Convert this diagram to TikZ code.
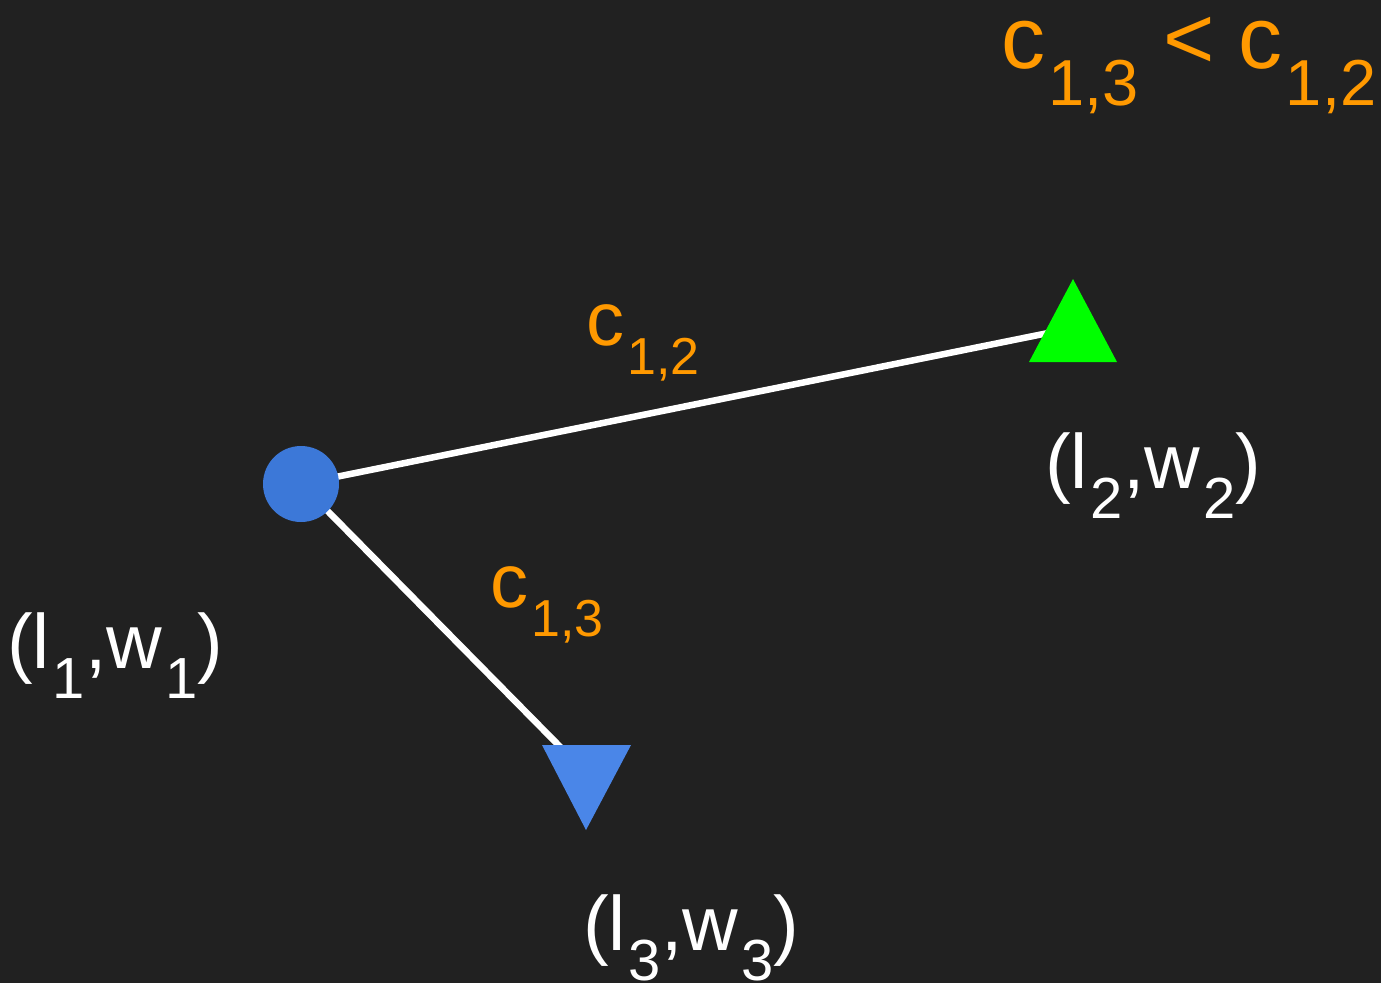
\documentclass[tikz,border=0pt]{standalone}
\usepackage{fontspec}
\setmainfont{Liberation Sans}
\usetikzlibrary{positioning}
\definecolor{bgdark}{HTML}{212121}
\definecolor{nodeblue}{HTML}{3C78D8}
\definecolor{triblue}{HTML}{4A86E8}
\definecolor{trigreen}{HTML}{00FF00}
\definecolor{costorange}{HTML}{FF9900}

% lowered subscript: size, drop, text
\newcommand{\lowsub}[3]{\kern3pt\raisebox{-#2pt}{\fontsize{#1}{#1}\selectfont #3}}

\begin{document}
\begin{tikzpicture}[
    x=1pt, y=-1pt,
    pairlbl/.style={text=white, inner sep=0pt, anchor=base west, font=\fontsize{77}{80}\selectfont},
    costlbl/.style={text=costorange, inner sep=0pt, anchor=base west, font=\fontsize{76}{80}\selectfont},
    edge/.style={draw=white, line width=6.5pt}
]

% -------- Background --------
\fill[bgdark] (0,0) rectangle (1381,983);

% -------- Points --------
\coordinate (p2) at (1073,328);
\coordinate (p3) at (586,773);
\coordinate (p1pos) at (301,484);

% -------- Edges (under the markers) --------
\draw[edge] (p1pos) -- (p2);
\draw[edge] (p1pos) -- (p3);
\node[circle, fill=nodeblue, minimum size=76pt, inner sep=0pt] (p1) at (p1pos) {};

% -------- Triangle markers --------
\fill[trigreen] (1073,279) -- (1117,362) -- (1029,362) -- cycle;
\fill[triblue]  (542,745) -- (631,745) -- (586,830) -- cycle;

% -------- Pair labels --------
\node[pairlbl] (lab1) at (7,668)    {(l\lowsub{58}{30}{1},w\lowsub{58}{30}{1})};
\node[pairlbl] (lab2) at (1045,488) {(l\lowsub{58}{30}{2},w\lowsub{58}{30}{2})};
\node[pairlbl] (lab3) at (583,950)  {(l\lowsub{58}{30}{3},w\lowsub{58}{30}{3})};

% -------- Cost labels --------
\node[costlbl] (c12) at (586,345) {c\lowsub{52}{29}{1,2}};
\node[costlbl] (c13) at (490,607) {c\lowsub{52}{29}{1,3}};
\node[costlbl, font=\fontsize{88}{92}\selectfont] (cmp) at (1001,68)
    {c\lowsub{65}{37}{1,3} < c\lowsub{65}{37}{1,2}};

\end{tikzpicture}
\end{document}
